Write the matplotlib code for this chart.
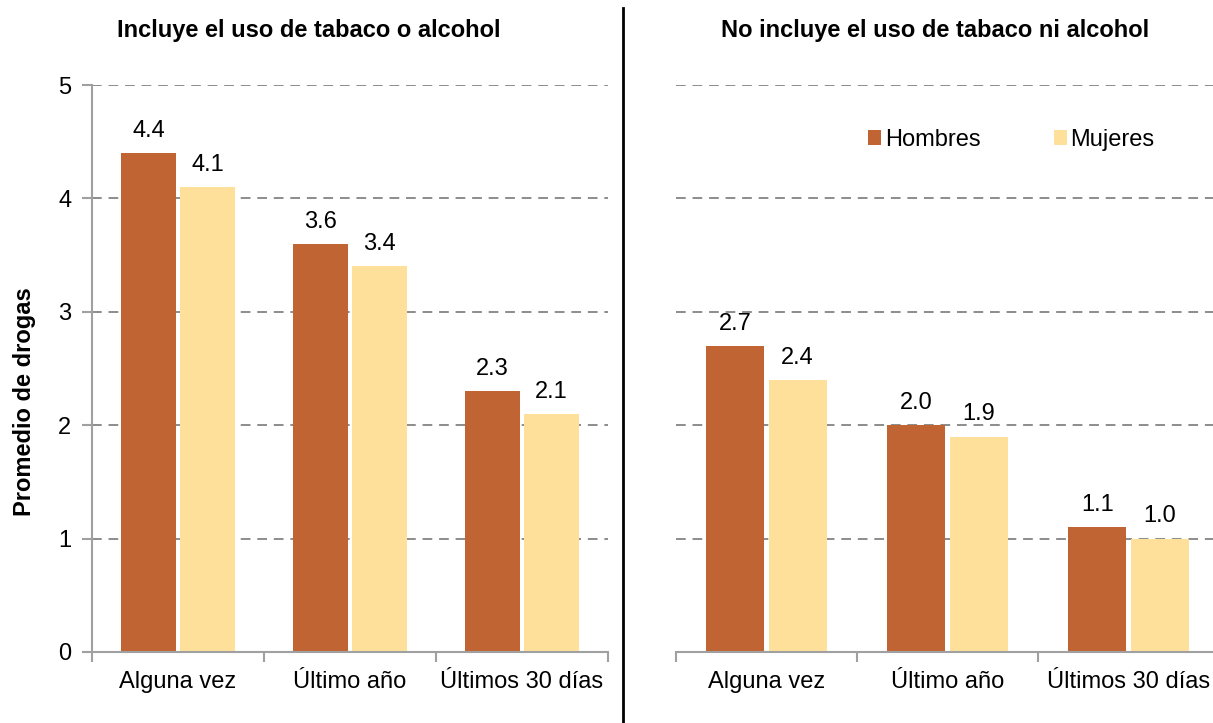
import matplotlib
matplotlib.use("Agg")
import matplotlib.pyplot as plt
import numpy as np

plt.rcParams['font.family'] = ['Liberation Sans', 'DejaVu Sans']

categories = ["Alguna vez", "Último año", "Últimos 30 días"]
series = ["Hombres", "Mujeres"]
left_hombres = [4.4, 3.6, 2.3]
left_mujeres = [4.1, 3.4, 2.1]
right_hombres = [2.7, 2.0, 1.1]
right_mujeres = [2.4, 1.9, 1.0]
title_left = "Incluye el uso de tabaco o alcohol"
title_right = "No incluye el uso de tabaco ni alcohol"
ylabel = "Promedio de drogas"
yticks = [0, 1, 2, 3, 4, 5]

c_h = "#C06434"
c_m = "#FEE09A"
grid_c = "#8C8C8C"
spine_c = "#A0A0A0"
FS = 17

W, H = 1213, 723
fig = plt.figure(figsize=(W / 100, H / 100), dpi=100)

def px_axes(x0, x1, ytop, ybot):
    return fig.add_axes([x0 / W, 1 - ybot / H, (x1 - x0) / W, (ybot - ytop) / H])

axL = px_axes(92, 608, 85, 652)
axR = px_axes(676, 1219, 85, 652)

x = np.arange(len(categories))
bw = 0.32
off = 0.172

for ax, hv, mv, title, show_y in [(axL, left_hombres, left_mujeres, title_left, True),
                                  (axR, right_hombres, right_mujeres, title_right, False)]:
    ax.set_xlim(-0.5, 2.5)
    ax.set_ylim(0, 5)
    for yv in yticks[1:]:
        ax.axhline(yv, color=grid_c, lw=1.4, ls=(0, (5, 3.5)), zorder=0)
    bh = ax.bar(x - off, hv, bw, color=c_h, label=series[0], zorder=2)
    bm = ax.bar(x + off, mv, bw, color=c_m, label=series[1], zorder=2)
    for rects, vals in [(bh, hv), (bm, mv)]:
        for r, v in zip(rects, vals):
            ax.annotate(f"{v:.1f}", (r.get_x() + r.get_width() / 2, v),
                        xytext=(0, 8), textcoords="offset points",
                        ha="center", va="bottom", fontsize=FS)
    for s in ["top", "right"]:
        ax.spines[s].set_visible(False)
    ax.spines["bottom"].set_color(spine_c)
    ax.spines["bottom"].set_linewidth(1.5)
    ax.set_xticks([-0.5, 0.5, 1.5, 2.5])
    ax.set_xticklabels([])
    ax.set_xticks(x, minor=True)
    ax.set_xticklabels(categories, minor=True, fontsize=FS)
    ax.tick_params(axis="x", which="major", length=7, width=1.5, color=spine_c, direction="out")
    ax.tick_params(axis="x", which="minor", length=0, pad=14)
    ax.set_title(title, fontsize=FS, fontweight="bold", pad=0,
                 x=(0.42 if show_y else 0.477), y=1.085)
    if show_y:
        ax.spines["left"].set_color(spine_c)
        ax.spines["left"].set_linewidth(1.5)
        ax.set_yticks(yticks)
        ax.set_yticklabels([str(v) for v in yticks], fontsize=FS)
        ax.tick_params(axis="y", length=7, width=1.5, color=spine_c, pad=8)
        ax.set_ylabel(ylabel, fontsize=FS, fontweight="bold")
        ax.yaxis.set_label_coords(-0.108, 0.441)
    else:
        ax.spines["left"].set_visible(False)
        ax.set_yticks([])

axR.legend(loc="upper left", bbox_to_anchor=(0.315, 0.96), ncol=2, frameon=False,
           fontsize=FS, handlelength=0.55, handleheight=0.55, handletextpad=0.15,
           columnspacing=3.1)

fig.add_artist(plt.Line2D([623 / W, 623 / W], [0, 1 - 8 / H], color="black", lw=2,
                          transform=fig.transFigure))

fig.savefig("out.png", dpi=100)
